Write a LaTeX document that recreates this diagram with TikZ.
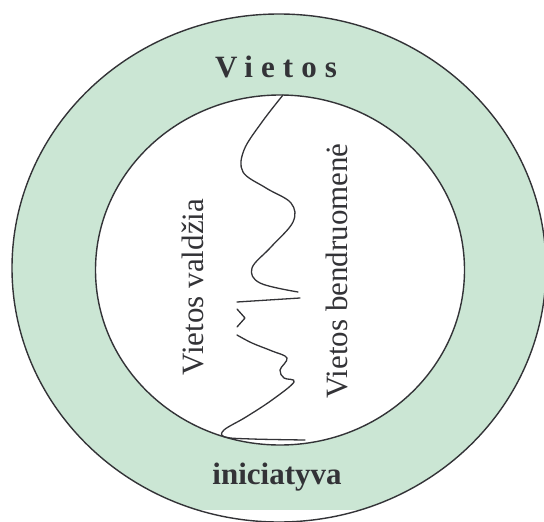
\documentclass[tikz,border=0pt]{standalone}
\usepackage{fontspec}
\setmainfont{Liberation Serif}
\definecolor{ringgreen}{RGB}{203,230,212}
\definecolor{ink}{RGB}{51,51,55}
\begin{document}
\begin{tikzpicture}[x=1pt,y=-1pt,
  outline/.style={draw=ink,line width=1.4pt},
  wave/.style={draw=ink,line width=1.3pt,line cap=round,line join=round},
  lbl/.style={text=ink,inner sep=0pt,font=\fontsize{31}{36}\selectfont},
  blbl/.style={lbl,font=\fontsize{31}{36}\selectfont\bfseries}]
\useasboundingbox (0,0) rectangle (544,522);
\clip (0,0) rectangle (544,522);
% outer ring
\fill[ringgreen] (279,268) ellipse [x radius=267,y radius=254];
\fill[white] (173,510) rectangle (363,523);
\draw[outline] (279,268) ellipse [x radius=267,y radius=254];
% inner disc
\filldraw[fill=white,outline] (280,270) ellipse [x radius=184.5,y radius=175];
% wavy boundary, upper part
\draw[wave] plot[smooth,tension=0.6] coordinates {(283,95) (262,122) (244,150) (243,172) (266,188) (291,203) (293,222) (271,247) (252,268) (260,283) (298,292)};
\draw[wave] (237,302) -- (300,298);
% lower part
\draw[wave] (237,309) -- (245,318) -- (237,327);
\draw[wave] plot[smooth,tension=0.6] coordinates {(237,335) (252,343) (272,351) (287,358) (280,370) (284,378) (294,382) (272,400) (246,417) (224,430) (225,437) (252,439) (305,440)};
% labels
\node[blbl,anchor=base] (top) at (276,77) {\addfontfeature{LetterSpace=26}Vietos};
\node[blbl,anchor=base] (bottom) at (277,484) {iniciatyva};
\node[lbl,rotate=90,anchor=base] (left) at (203,287) {Vietos valdžia};
\node[lbl,rotate=90,anchor=base] (right) at (347,271) {Vietos bendruomenė};
\end{tikzpicture}
\end{document}
